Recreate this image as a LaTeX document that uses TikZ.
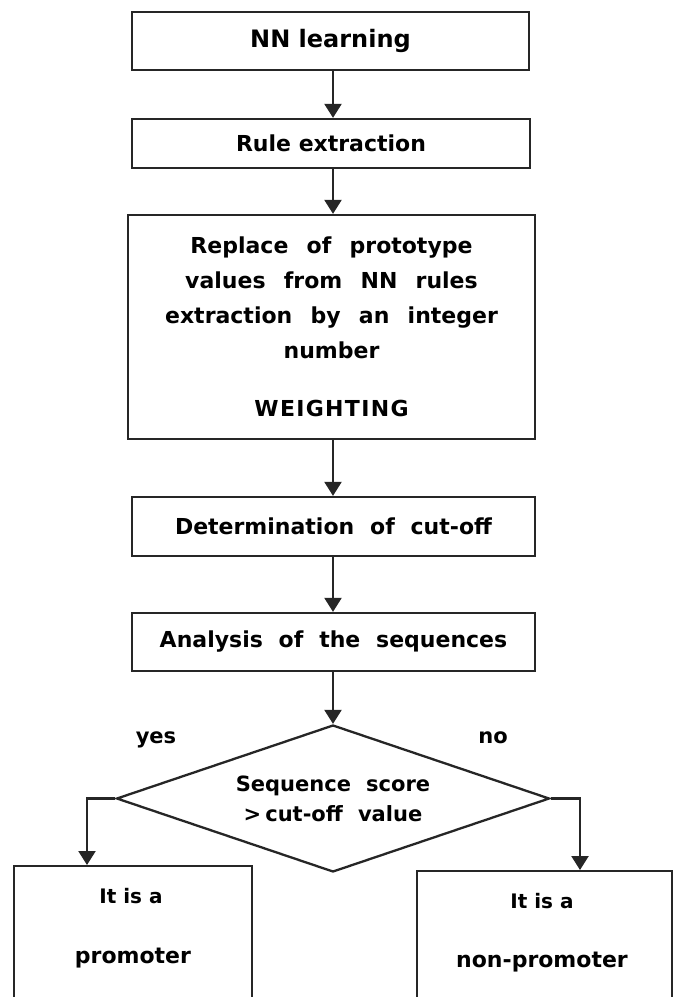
\documentclass[tikz,border=0pt]{standalone}
\usepackage{fontspec}
\setmainfont{DejaVu Sans}[BoldFont={DejaVu Sans Bold}]
\newfontfamily\plainface{DejaVu Sans Bold}
\newcommand\widespace{\spaceskip=0.72em plus 0.2em minus 0.1em\relax}
\newcommand\widerspace{\spaceskip=0.83em plus 0.2em minus 0.1em\relax}
\usetikzlibrary{arrows.meta,shapes.geometric}

\definecolor{ink}{HTML}{262626}

\tikzset{
  stepbox/.style={draw=ink, line width=2.3pt, rectangle, inner sep=0pt, align=center,
                  text=black},
  flow/.style={draw=ink, line width=2.3pt, -{Triangle[length=14pt,width=17pt]}},
  tag/.style={inner sep=0pt, text=black, font=\plainface\fontsize{21}{24}\selectfont}
}

\begin{document}
\begin{tikzpicture}[x=1pt,y=-1pt]
  \useasboundingbox[fill=white] (0,0) rectangle (679,997);

  % process steps
  \node[stepbox, minimum width=397pt, minimum height=58pt,
        font=\plainface\fontsize{24}{28}\selectfont] (learn) at (330.5,41) {NN learning};
  \node[stepbox, minimum width=398pt, minimum height=49pt,
        font=\plainface\fontsize{22}{26}\selectfont] (rules) at (331,143.5) {Rule extraction};
  \node[stepbox, minimum width=407pt, minimum height=224pt,
        font=\plainface\fontsize{22}{35}\selectfont\widerspace]
        (weight) at (331.5,327)
        {Replace of prototype\\values from NN rules\\extraction by an integer\\number\\[23pt]%
         {\addfontfeature{LetterSpace=6}WEIGHTING}};
  \node[stepbox, minimum width=403pt, minimum height=59pt,
        font=\plainface\fontsize{22}{26}\selectfont\widespace] (cutoff) at (333.5,526.5) {Determination of cut-off};
  \node[stepbox, minimum width=403pt, minimum height=58pt,
        font=\plainface\fontsize{22}{26}\selectfont\widespace] (analysis) at (333.5,642) {Analysis of the sequences};

  % decision
  \node[draw=ink, line width=2.3pt, diamond, aspect=2.95, inner sep=0pt,
        minimum width=433pt, minimum height=147pt, align=center,
        font=\plainface\fontsize{21}{30}\selectfont\widespace] (test) at (333,798.5)
        {Sequence score\\>\kern4pt cut-off value};

  % outcomes (bottoms run past the page edge)
  \node[stepbox, minimum width=238pt, minimum height=150pt, anchor=north] (prom) at (133,865) {};
  \node[stepbox, minimum width=255pt, minimum height=150pt, anchor=north] (nonprom) at (544.5,870) {};
  \node[inner sep=0pt, font=\plainface\fontsize{20}{24}\selectfont] (prom1) at (131,896) {It is a};
  \node[inner sep=0pt, font=\plainface\fontsize{22}{26}\selectfont] (prom2) at (133,958) {promoter};
  \node[inner sep=0pt, font=\plainface\fontsize{20}{24}\selectfont] (nonprom1) at (542,901) {It is a};
  \node[inner sep=0pt, font=\plainface\fontsize{22}{26}\selectfont] (nonprom2) at (542,962) {non-promoter};

  % branch labels
  \node[tag] (yes) at (156,740) {yes};
  \node[tag] (no) at (493,738) {no};

  % bends of the two branches
  \coordinate (yesbend) at (87,0);
  \coordinate (nobend) at (580,0);

  % connectors
  \draw[flow] (learn.south -| test.north) -- (rules.north -| test.north);
  \draw[flow] (rules.south -| test.north) -- (weight.north -| test.north);
  \draw[flow] (weight.south -| test.north) -- (cutoff.north -| test.north);
  \draw[flow] (cutoff.south -| test.north) -- (analysis.north -| test.north);
  \draw[flow] (analysis.south -| test.north) -- (test.north);
  \draw[flow] (test.west) -| (prom.north -| yesbend);
  \draw[flow] (test.east) -| (nonprom.north -| nobend);
\end{tikzpicture}
\end{document}
